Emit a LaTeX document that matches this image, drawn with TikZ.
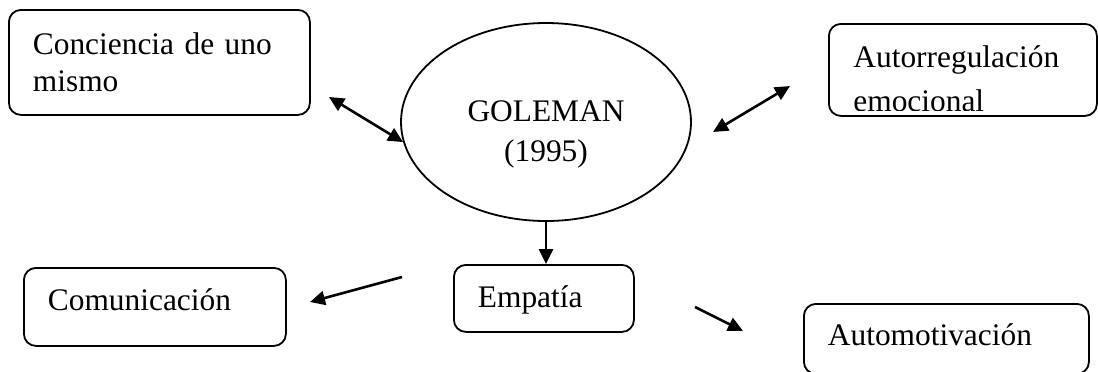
\documentclass[tikz,border=0pt]{standalone}
\usepackage{fontspec}
\setmainfont{Liberation Serif}
\usetikzlibrary{arrows.meta,shapes.geometric,positioning}
\tikzset{%
  >={Triangle[width=7pt,length=7.5pt]},
  % Specifications for style of nodes:
          base/.style = {rectangle, rounded corners=6pt, draw=black,
                         line width=0.9pt, anchor=north west,
                         inner xsep=12pt, inner ysep=0pt, align=left,
                         font=\fontsize{15.7}{18.5}\selectfont},
       twoLine/.style = {base},
       oneLine/.style = {base, text height=11pt, text depth=4pt},
        author/.style = {ellipse, draw=black, line width=0.9pt,
                         inner sep=0pt, minimum width=145pt,
                         minimum height=99pt},
    authorText/.style = {inner sep=0pt, align=center,
                         font=\fontsize{15.7}{20}\selectfont},
      freeText/.style = {anchor=north west, inner sep=0pt, align=left,
                         font=\fontsize{15.7}{22}\selectfont},
          link/.style = {line width=1.3pt},
}

\begin{document}
\begin{tikzpicture}[x=0.5pt, y=-0.5pt]
\clip (0,0) rectangle (1098,371);

\node (GO)     [author] at (546,122)                {};
\node (GOtext) [authorText] at (546,134)           {GOLEMAN\\(1995)};

\node (CM)     [twoLine, text width=126.5pt,
                minimum height=52.5pt] at (8,9)     {Conciencia de uno\\mismo};

\node (AR)     [base, minimum width=134pt,
                minimum height=46pt] at (828,23)    {};
\begin{scope}
  \clip (AR.north west) rectangle (1098,110);
  \node (ARtext) [freeText] at (853,45)            {Autorregulación\\emocional};
\end{scope}

\node (CO)     [oneLine, text width=107pt, text height=10pt, text depth=6pt,
                minimum height=39pt] at (23,267)    {Comunicación};

\node (EM)     [oneLine, text width=66pt, text height=12pt, text depth=2.5pt,
                minimum height=33.5pt] at (453,264) {Empatía};

\node (AM)     [oneLine, text width=118.5pt,
                minimum height=35pt] at (803,303)   {Automotivación};

% free ends of the arrows
\coordinate (CMend) at (329,97);
\coordinate (ARstart) at (713,132);
\coordinate (ARend) at (790,86);
\coordinate (COstart) at (402,277);
\coordinate (COend) at (310,302);
\coordinate (AMstart) at (695,307);
\coordinate (AMend) at (743,331);

\draw[link, <->]      (CMend) -- (GO.188);
\draw[link, <->]      (ARstart) -- (ARend);
\draw[link, ->]       (GO.south) -- (GO.south |- EM.north);
\draw[link, ->]       (COstart) -- (COend);
\draw[link, ->]       (AMstart) -- (AMend);
\end{tikzpicture}
\end{document}
